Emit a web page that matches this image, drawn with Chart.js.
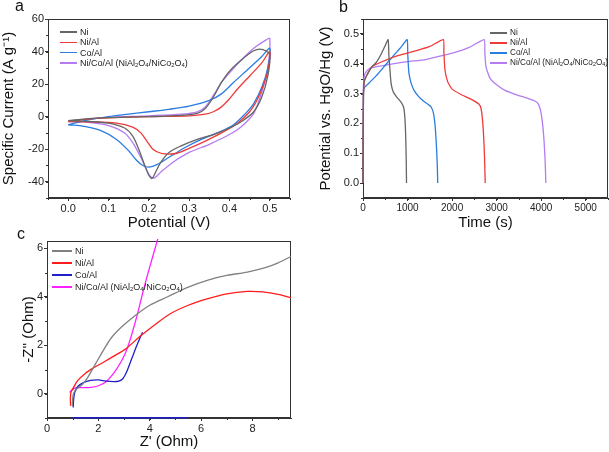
<!DOCTYPE html>
<html>
<head>
<meta charset="utf-8">
<script src="https://cdn.jsdelivr.net/npm/chart.js@4.4.0/dist/chart.umd.min.js"></script>
<style>
  body { margin: 0; background: #fff; font-family: "Liberation Sans", Arial, sans-serif; }
  #fig { position: relative; width: 609px; height: 452px; overflow: hidden; }
  canvas { position: absolute; }
  .tag { position: absolute; font-size: 16px; color: #111; line-height: 16px; }
  .legend { position: absolute; font-size: 9px; color: #222; }
  .legend div { position: relative; white-space: nowrap; }
  .legend span.sw { position: absolute; height: 1.4px; }
  .legend sub { font-size: 0.66em; vertical-align: -0.25em; line-height: 0; }
</style>
</head>
<body>
<div id="fig">
  <canvas id="chartA" width="300" height="232" style="left:0;top:0"></canvas>
  <canvas id="chartB" width="292" height="232" style="left:317px;top:0"></canvas>
  <canvas id="chartC" width="300" height="220" style="left:0;top:232px"></canvas>
  <div class="tag" style="left:15px;top:-2px">a</div>
  <div class="tag" style="left:339px;top:-1px">b</div>
  <div class="tag" style="left:17px;top:226px">c</div>
  <div class="legend" id="legA" style="left:60px;top:27px"></div>
  <div class="legend" id="legB" style="left:490px;top:28px;font-size:8.2px"></div>
  <div class="legend" id="legC" style="left:52px;top:245px"></div>
</div>
<script>
const names = ['Ni', 'Ni/Al', 'Co/Al', 'Ni/Co/Al (NiAl<sub>2</sub>O<sub>4</sub>/NiCo<sub>2</sub>O<sub>4</sub>)'];
const colorsAB = ['#666666', '#f03a3a', '#2a7de0', '#b47cf0'];
const colorsC = ['#808080', '#ff1c1c', '#2020c8', '#ff20ff'];

// a: cyclic voltammetry [potential V, current A/g]
const cvNi = [[0,-2.5],[0.05,-1.2],[0.1,-0.6],[0.2,0],[0.28,0.8],[0.32,2],[0.34,5],[0.36,12],[0.38,21],[0.40,28],[0.43,35],[0.46,40.5],[0.475,41.5],[0.49,40.5],[0.5,38],
  [0.495,25],[0.48,12],[0.46,3],[0.43,-3],[0.40,-7],[0.36,-11],[0.32,-14],[0.28,-18],[0.25,-22],[0.23,-28],[0.215,-35],[0.208,-38],[0.2,-36],[0.19,-30],[0.175,-20],[0.16,-12],[0.14,-7],[0.1,-4],[0.05,-3],[0,-2.5]];
const cvNiAl = [[0,-3],[0.05,-1.5],[0.1,-0.8],[0.2,0],[0.3,0.5],[0.34,1.5],[0.36,3],[0.38,6],[0.40,11],[0.42,17],[0.45,25],[0.48,33],[0.5,40],
  [0.495,28],[0.485,20],[0.47,11],[0.45,3],[0.42,-4],[0.38,-10],[0.34,-15],[0.30,-19.5],[0.27,-22.5],[0.25,-23],[0.23,-22.5],[0.21,-20],[0.195,-15],[0.18,-10],[0.16,-6.5],[0.12,-4],[0.05,-3.2],[0,-3]];
const cvCoAl = [[0,-5],[0.05,-2],[0.1,0],[0.15,1.5],[0.2,3],[0.25,4.5],[0.3,6.5],[0.35,10],[0.38,14],[0.41,21],[0.45,30],[0.48,37],[0.5,42],
  [0.495,30],[0.48,18],[0.46,8],[0.44,2],[0.41,-5],[0.37,-10],[0.33,-14],[0.29,-19],[0.25,-25],[0.22,-29.5],[0.2,-31],[0.185,-30],[0.17,-27],[0.15,-21],[0.12,-14],[0.08,-8.5],[0.04,-6],[0,-5]];
const cvNiCoAl = [[0,-3],[0.05,-1.5],[0.1,-0.5],[0.2,0.5],[0.28,1.5],[0.32,3],[0.34,6],[0.36,13],[0.38,21],[0.40,27],[0.43,35],[0.46,42],[0.49,47],[0.5,48],
  [0.495,30],[0.48,15],[0.46,2],[0.43,-6],[0.40,-11],[0.35,-17],[0.30,-22],[0.26,-28],[0.23,-34],[0.215,-37.5],[0.205,-37],[0.195,-33],[0.18,-25],[0.16,-16],[0.14,-10],[0.1,-5.5],[0.05,-3.5],[0,-3]];

// b: charge / discharge [time s, potential V]
const gcdNi = [[0,0],[10,0.3],[30,0.345],[100,0.365],[200,0.39],[300,0.405],[400,0.43],[480,0.455],[565,0.481],[580,0.43],[600,0.39],[630,0.335],[680,0.305],[750,0.29],[850,0.272],[910,0.255],[940,0.22],[960,0.15],[970,0.08],[977,0]];
const gcdNiAl = [[0,0],[10,0.3],[30,0.34],[80,0.36],[200,0.39],[400,0.405],[800,0.428],[1200,0.444],[1500,0.458],[1805,0.481],[1815,0.44],[1840,0.38],[1900,0.34],[2000,0.315],[2200,0.297],[2400,0.283],[2600,0.265],[2650,0.25],[2690,0.2],[2720,0.12],[2735,0.05],[2744,0]];
const gcdCoAl = [[0,0],[10,0.29],[30,0.32],[100,0.33],[300,0.36],[500,0.395],[700,0.43],[850,0.455],[992,0.481],[1005,0.43],[1030,0.37],[1080,0.335],[1150,0.31],[1250,0.29],[1350,0.276],[1450,0.265],[1530,0.255],[1580,0.235],[1620,0.19],[1650,0.12],[1670,0.05],[1677,0]];
const gcdNiCoAl = [[0,0],[10,0.32],[30,0.36],[80,0.375],[150,0.385],[300,0.39],[600,0.398],[1000,0.407],[1400,0.414],[1800,0.428],[2100,0.44],[2400,0.456],[2722,0.481],[2735,0.44],[2760,0.39],[2850,0.352],[3000,0.33],[3200,0.31],[3450,0.296],[3700,0.284],[3850,0.276],[3940,0.264],[3990,0.24],[4030,0.2],[4065,0.14],[4090,0.07],[4105,0]];

// c: Nyquist [Z' ohm, -Z'' ohm]
const eisNi = [[0.99,-0.5],[1.0,-0.2],[1.03,0],[1.15,0.2],[1.35,0.35],[1.6,0.7],[1.9,1.25],[2.2,1.8],[2.5,2.3],[2.9,2.75],[3.4,3.2],[4.0,3.65],[4.7,4.0],[5.5,4.4],[6.3,4.7],[7.0,4.88],[7.8,5.02],[8.5,5.2],[9.0,5.4],[9.5,5.66]];
const eisNiAl = [[0.92,-0.5],[0.91,-0.2],[0.93,0.05],[1.0,0.2],[1.2,0.55],[1.5,0.85],[1.8,1.06],[2.2,1.3],[2.6,1.55],[3.1,1.88],[3.6,2.35],[4.2,2.85],[4.8,3.3],[5.5,3.65],[6.2,3.9],[7.0,4.12],[7.8,4.22],[8.4,4.2],[9.0,4.1],[9.5,3.96]];
const eisCoAl = [[1.02,-0.57],[1.04,-0.2],[1.08,0.05],[1.2,0.3],[1.4,0.45],[1.7,0.55],[2.0,0.57],[2.3,0.52],[2.6,0.5],[2.8,0.52],[2.95,0.62],[3.1,0.9],[3.3,1.45],[3.5,2.0],[3.72,2.54]];
const eisCoAlTail = [[1.0,-0.99],[5.5,-0.99]];
const eisNiCoAl = [[0.88,0.05],[1.0,0.18],[1.15,0.25],[1.4,0.25],[1.7,0.26],[2.0,0.33],[2.3,0.5],[2.6,0.85],[2.9,1.35],[3.1,1.8],[3.3,2.45],[3.5,3.2],[3.7,4.05],[3.9,4.85],[4.1,5.6],[4.4,6.7]];

const xTicksA = [0, 0.1, 0.2, 0.3, 0.4, 0.5];
const yTicksA = [-40, -20, 0, 20, 40, 60];
const xTicksB = [0, 1000, 2000, 3000, 4000, 5000];
const yTicksB = [0, 0.1, 0.2, 0.3, 0.4, 0.5];
const xTicksC = [0, 2, 4, 6, 8];
const yTicksC = [0, 2, 4, 6];

const font = '"Liberation Sans", Arial, sans-serif';

function minors(min, max, step) {
  const out = [];
  for (let v = Math.ceil(min / step - 1e-9) * step; v <= max + 1e-9; v += step) out.push(v);
  return out;
}

// box round the plot plus short minor ticks; drawn before the lines so they sit on top
const framePlugin = {
  id: 'frame',
  beforeDatasetsDraw(chart, args, opts) {
    const { ctx, chartArea: a, scales } = chart;
    ctx.save();
    ctx.strokeStyle = '#333';
    ctx.lineWidth = 1;
    ctx.strokeRect(Math.round(a.left) + 0.5, Math.round(a.top) + 0.5, Math.round(a.right - a.left) - 1, Math.round(a.bottom - a.top) - 1);
    ctx.beginPath();
    for (const v of opts.xMinor) {
      const px = Math.round(scales.x.getPixelForValue(v)) + 0.5;
      ctx.moveTo(px, a.bottom); ctx.lineTo(px, a.bottom + 2);
    }
    for (const v of opts.yMinor) {
      const py = Math.round(scales.y.getPixelForValue(v)) + 0.5;
      ctx.moveTo(a.left, py); ctx.lineTo(a.left - 2, py);
    }
    ctx.stroke();
    ctx.restore();
  }
};

function axis(cfg) {
  return {
    type: 'linear',
    position: cfg.position,
    min: cfg.min,
    max: cfg.max,
    grid: { display: true, drawOnChartArea: false, drawTicks: true, tickLength: 3, color: '#333' },
    border: { display: true, color: '#333', width: 1 },
    ticks: {
      font: { family: font, size: cfg.tickSize || 11 },
      color: '#222',
      padding: 1,
      maxRotation: 0,
      autoSkip: false,
      callback: cfg.fmt
    },
    afterBuildTicks: s => { s.ticks = cfg.ticks.map(v => ({ value: v })); },
    afterFit: s => {
      if (cfg.position === 'bottom') s.height = cfg.size; else s.width = cfg.size;
    },
    title: {
      display: true,
      text: cfg.title,
      color: '#111',
      font: { family: font, size: 15 },
      padding: cfg.titlePad
    }
  };
}

function makeChart(id, series, colors, opts) {
  new Chart(document.getElementById(id), {
    type: 'scatter',
    data: {
      datasets: series.map((pts, i) => ({
        data: pts.map(p => ({ x: p[0], y: p[1] })),
        showLine: true,
        borderColor: colors[i],
        borderWidth: 1.3,
        pointRadius: 0,
        tension: opts.tension[i],
        clip: 2,
        fill: false
      }))
    },
    options: {
      responsive: false,
      animation: false,
      devicePixelRatio: 1,
      layout: { padding: opts.padding },
      plugins: {
        legend: { display: false },
        tooltip: { enabled: false },
        frame: { xMinor: opts.xMinor, yMinor: opts.yMinor }
      },
      scales: { x: axis(opts.x), y: axis(opts.y) }
    },
    plugins: [framePlugin]
  });
}

function legend(id, colors, width, gap) {
  const el = document.getElementById(id);
  el.innerHTML = names.map((n, i) =>
    `<div style="height:${gap}px;line-height:${gap}px"><span class="sw" style="left:0;width:${width}px;background:${colors[i]};top:${gap / 2 - 0.7}px"></span><span style="margin-left:${width + 3}px">${n}</span></div>`
  ).join('');
}

makeChart('chartA', [cvNi, cvNiAl, cvCoAl, cvNiCoAl], colorsAB, {
  tension: [0.3, 0.3, 0.3, 0.3],
  padding: { left: 0, top: 19, right: 10, bottom: 0 },
  xMinor: minors(-0.05, 0.55, 0.05),
  yMinor: minors(-50, 60, 10),
  x: { position: 'bottom', min: -0.05, max: 0.55, ticks: xTicksA, fmt: v => v.toFixed(1), size: 34, title: 'Potential (V)', titlePad: { top: 0, bottom: 0 } },
  y: { position: 'left', min: -50, max: 60, ticks: yTicksA, fmt: v => String(v), size: 48, title: 'Specific Current (A g\u207B\u00B9)', titlePad: { top: 0, bottom: 0 } }
});

makeChart('chartB', [gcdNi, gcdNiAl, gcdCoAl, gcdNiCoAl], colorsAB, {
  tension: [0.15, 0.15, 0.15, 0.15],
  padding: { left: 0, top: 19, right: 1, bottom: 0 },
  xMinor: minors(0, 5500, 500),
  yMinor: minors(-0.05, 0.55, 0.05),
  x: { position: 'bottom', min: 0, max: 5500, ticks: xTicksB, fmt: v => String(v), size: 34, tickSize: 10, title: 'Time (s)', titlePad: { top: 0, bottom: 0 } },
  y: { position: 'left', min: -0.05, max: 0.55, ticks: yTicksB, fmt: v => v.toFixed(1), size: 46, title: 'Potential vs. HgO/Hg (V)', titlePad: { top: 0, bottom: 0 } }
});

makeChart('chartC', [eisNi, eisNiAl, eisCoAl, eisNiCoAl, eisCoAlTail], colorsC.concat([colorsC[2]]), {
  tension: [0.3, 0.3, 0.3, 0.3, 0],
  padding: { left: 0, top: 9, right: 9, bottom: 0 },
  xMinor: minors(0, 9.5, 1),
  yMinor: minors(-1, 6.3, 1),
  x: { position: 'bottom', min: 0, max: 9.5, ticks: xTicksC, fmt: v => String(v), size: 34, title: "Z' (Ohm)", titlePad: { top: 0, bottom: 1 } },
  y: { position: 'left', min: -1, max: 6.3, ticks: yTicksC, fmt: v => String(v), size: 47, title: "-Z'' (Ohm)", titlePad: { top: 20, bottom: 0 } }
});

legend('legA', colorsAB, 17, 10.3);
legend('legB', colorsAB, 17, 10);
legend('legC', colorsC, 20, 12);
</script>
</body>
</html>
